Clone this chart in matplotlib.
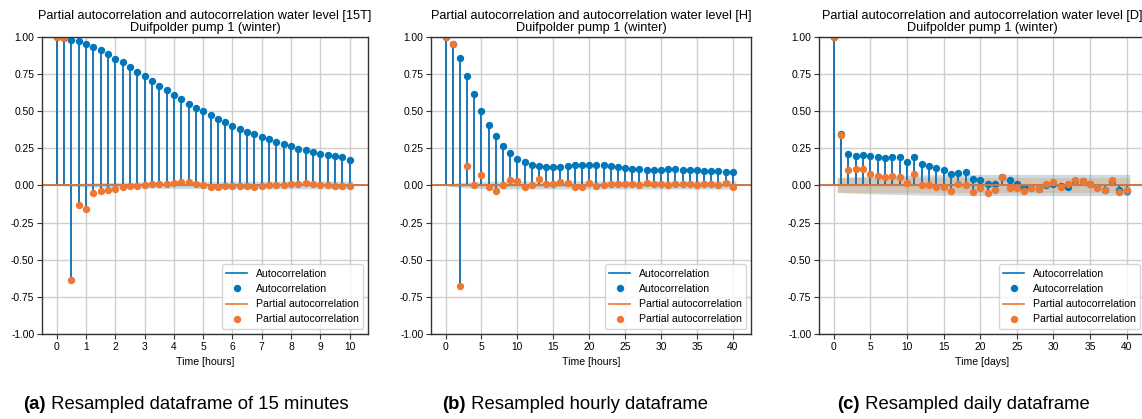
import numpy as np
import matplotlib
matplotlib.use("Agg")
import matplotlib.pyplot as plt
from matplotlib.offsetbox import TextArea, HPacker, AnnotationBbox

plt.rcParams['font.family'] = ['Liberation Sans', 'DejaVu Sans']

#-- Values (lags 0..40)
acf_15t = [1.0, 0.995, 0.98, 0.97, 0.95, 0.93, 0.91, 0.885, 0.855, 0.83,
           0.795, 0.765, 0.735, 0.705, 0.673, 0.642, 0.61, 0.58, 0.55, 0.52,
           0.50, 0.473, 0.448, 0.425, 0.40, 0.38, 0.36, 0.345, 0.325, 0.31,
           0.295, 0.28, 0.263, 0.248, 0.237, 0.228, 0.212, 0.207, 0.197, 0.19,
           0.175]
pacf_15t = [1.0, 0.995, -0.635, -0.134, -0.158, -0.053, -0.035, -0.028, -0.023, -0.008,
            -0.006, -0.003, 0.005, 0.009, 0.008, 0.012, 0.017, 0.024, 0.025, 0.013,
            0.002, -0.008, -0.009, -0.003, -0.001, -0.002, -0.005, -0.008, -0.002, 0.0,
            0.003, 0.006, 0.011, 0.012, 0.015, 0.009, 0.006, 0.001, -0.004, -0.004,
            -0.001]

acf_h = [1.0, 0.955, 0.86, 0.74, 0.615, 0.503, 0.405, 0.33, 0.268, 0.217,
         0.18, 0.155, 0.14, 0.13, 0.125, 0.125, 0.125, 0.128, 0.135, 0.138,
         0.14, 0.14, 0.137, 0.132, 0.125, 0.118, 0.113, 0.11, 0.107, 0.105,
         0.105, 0.108, 0.108, 0.107, 0.105, 0.105, 0.1, 0.1, 0.095, 0.09,
         0.09]
pacf_h = [1.0, 0.955, -0.68, 0.132, 0.005, 0.074, -0.011, -0.036, 0.005, 0.036,
          0.029, -0.011, 0.0, 0.045, 0.013, 0.013, 0.022, 0.018, -0.011, -0.011,
          0.016, -0.002, 0.0, 0.011, 0.013, 0.011, 0.009, 0.0, 0.016, 0.009,
          0.009, 0.0, 0.011, 0.013, 0.007, 0.0, 0.009, 0.013, 0.002, 0.016,
          -0.011]

acf_d = [1.0, 0.345, 0.213, 0.2, 0.208, 0.2, 0.19, 0.183, 0.19, 0.19,
         0.157, 0.19, 0.148, 0.13, 0.119, 0.103, 0.076, 0.085, 0.092, 0.045,
         0.04, 0.013, 0.013, 0.06, 0.036, 0.013, -0.011, -0.02, -0.022, 0.0,
         0.009, -0.004, -0.007, 0.03, 0.031, 0.013, -0.013, -0.029, 0.031, -0.031,
         -0.036]
pacf_d = [1.0, 0.342, 0.107, 0.112, 0.112, 0.08, 0.067, 0.06, 0.067, 0.06,
          0.02, 0.078, 0.0, 0.004, -0.007, -0.011, -0.034, 0.009, 0.004, -0.045,
          -0.02, -0.049, -0.031, 0.056, -0.016, -0.02, -0.036, -0.02, -0.025, 0.013,
          0.025, -0.011, 0.009, 0.038, 0.031, 0.009, -0.018, -0.029, 0.038, -0.047,
          -0.029]

# number of observations behind each panel (sets the 95% bands)
n_obs = [160000, 40000, 1650]
lag_step = [0.25, 1.0, 1.0]      # x units per lag
freq_tags = ['15T', 'H', 'D']
xlabels = ['Time [hours]', 'Time [hours]', 'Time [days]']
xtick_steps = [1, 5, 5]
captions = [('(a)', 'Resampled dataframe of 15 minutes'),
            ('(b)', 'Resampled hourly dataframe'),
            ('(c)', 'Resampled daily dataframe')]

BLUE = '#0077BB'
ORANGE = '#EE7733'


def main():
    fig = plt.figure(figsize=(11.42, 4.19), dpi=100)
    boxes = [[0.0368, 0.2029, 0.2855, 0.7088],
             [0.3774, 0.2029, 0.2802, 0.7088],
             [0.7172, 0.2029, 0.2855, 0.7088]]
    series = [(acf_15t, pacf_15t), (acf_h, pacf_h), (acf_d, pacf_d)]
    for i, (acf, pacf) in enumerate(series):
        ax = fig.add_axes(boxes[i])
        plot_panel(ax, np.array(acf), np.array(pacf), n_obs[i], lag_step[i])
        ax.set_title('Partial autocorrelation and autocorrelation water level [%s]\n'
                     'Duifpolder pump 1 (winter)' % freq_tags[i],
                     fontsize=9.2, pad=4, linespacing=1.0)
        ax.set_xlabel(xlabels[i], fontsize=7.6, labelpad=4)
        ax.set_xticks(np.arange(0, 40 * lag_step[i] + 0.01, xtick_steps[i]))

    centers = [0.163, 0.5035, 0.8437]
    for (tag, text), cx in zip(captions, centers):
        caption(fig, tag, text, cx, 0.034)

    fig.savefig('out.png', dpi=100)


def corr_band(values, n, partial):
    """95% band the way statsmodels draws it (Bartlett for the ACF)"""
    var = np.ones(len(values)) / n
    if not partial:
        var[2:] = (1 + 2 * np.cumsum(values[1:-1] ** 2)) / n
    return 1.96 * np.sqrt(var)


def plot_panel(ax, acf, pacf, n, step):
    lags = np.arange(len(acf)) * step

    for vals, color, label, partial in [(acf, BLUE, 'Autocorrelation', False),
                                        (pacf, ORANGE, 'Partial autocorrelation', True)]:
        ax.vlines(lags, 0, vals, color='#1f77b4', lw=1.4)
        ax.axhline(0, color=color, lw=1.2, label=label)
        ax.plot(lags, vals, 'o', color=color, markersize=4.3, label=label)
        half = corr_band(vals, n, partial)[1:]
        xs = lags[1:].copy()
        xs[0] -= 0.5 * step
        xs[-1] += 0.5 * step
        ax.fill_between(xs, -half, half, alpha=0.25, lw=0)

    ax.set_ylim(-1, 1)
    ax.set_yticks(np.arange(-1, 1.01, 0.25))
    ax.yaxis.set_major_formatter(matplotlib.ticker.FormatStrFormatter('%.2f'))
    ax.grid(True, color='#cfcfcf', lw=1.0)
    ax.set_axisbelow(True)
    ax.tick_params(labelsize=7.4, length=3.5, width=0.8, color='#333333', pad=2)
    for sp in ax.spines.values():
        sp.set_color('#333333')
        sp.set_linewidth(1.0)
    ax.legend(loc='lower right', fontsize=7.6, borderaxespad=0.5)


def caption(fig, tag, text, cx, cy):
    bold = TextArea(tag, textprops=dict(fontsize=13.3, fontweight='bold'))
    rest = TextArea(' ' + text, textprops=dict(fontsize=13.3))
    pack = HPacker(children=[bold, rest], pad=0, sep=0, align='baseline')
    ab = AnnotationBbox(pack, (cx, cy), xycoords='figure fraction',
                        frameon=False, box_alignment=(0.5, 0.5))
    fig.add_artist(ab)


if __name__ == '__main__':
    main()
